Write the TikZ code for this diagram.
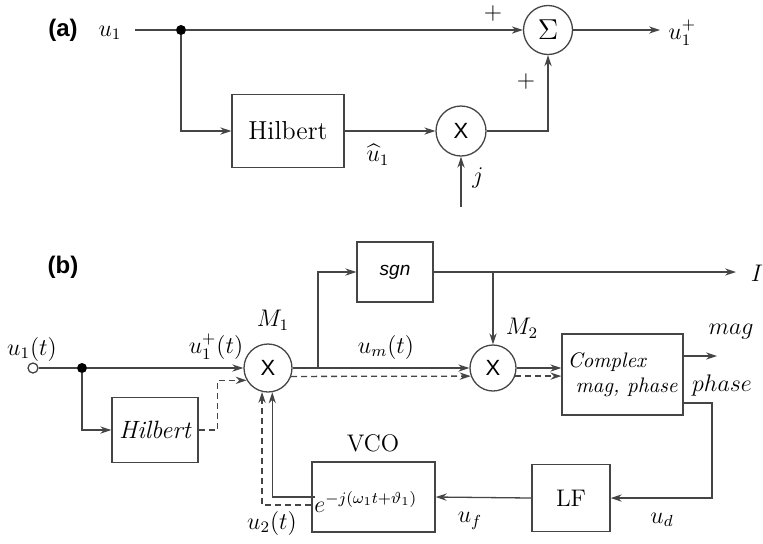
\documentclass[tikz,border=0pt]{standalone}
\usepackage{amsmath}
\usepackage{fontspec}
\newfontfamily\arialf{Liberation Sans}
\usetikzlibrary{arrows.meta,calc}
\definecolor{linec}{HTML}{454545}
\tikzset{
  lin/.style={draw=linec, line width=0.65pt},
  tip/.style={-{Stealth[length=5.5pt,width=3.6pt]}},
  arr/.style={lin, tip},
  dsh/.style={lin, tip, dash pattern=on 3pt off 2pt},
  box/.style={draw=linec, line width=0.65pt, rectangle, inner sep=0pt},
  mulc/.style={draw=linec, line width=0.65pt, circle, inner sep=0pt},
  lbl/.style={inner sep=0pt, font=\fontsize{12}{14}\selectfont},
  tag/.style={inner sep=0pt, font=\arialf\bfseries\fontsize{12}{14}\selectfont},
  dotn/.style={circle, fill=black, inner sep=0pt, minimum size=5pt},
}
\begin{document}
\begin{tikzpicture}[x=0.5pt,y=-0.5pt]
\useasboundingbox (0,0) rectangle (763,543);
% ---------------- (a) ----------------
\node[tag] (la) at (63,30) {(a)};
\node[lbl] (u1a) at (110,33) {$u_1$};
\coordinate (a0) at (135,30);
\node[dotn] (ja) at (181,30) {};
\node[mulc, minimum size=24.5pt, font=\fontsize{14}{16}\selectfont] (sig) at (548,30) {$\Sigma$};
\node[box, minimum width=56pt, minimum height=36.5pt, font=\fontsize{13}{15}\selectfont] (hila) at (288,131) {Hilbert};
\node[mulc, minimum size=25pt, font=\arialf\fontsize{11}{12}\selectfont] (mula) at (461,131) {X};
\coordinate (jin) at (461,207);
\coordinate (outa) at (660,30);
\node[lbl, anchor=west] (u1p) at (668,33) {$u_1^+$};
\node[lbl] (pl1) at (493,13) {$+$};
\node[lbl] (pl2) at (526,81) {$+$};
\node[lbl] (jl) at (478,178) {$j$};
\node[lbl] (uh) at (378,155) {$\widehat{u}_1$};
\draw[lin] (a0) -- (ja);
\draw[arr] (ja) -- (sig.west);
\draw[arr] (ja) |- (hila.west);
\draw[arr] (hila) -- (mula);
\draw[arr] (mula.east) -| (sig.south);
\draw[arr] (jin) -- (mula.south);
\draw[arr] (sig) -- (outa);
% ---------------- (b) ----------------
\node[tag] (lb) at (63,267) {(b)};
\node[lbl] (u1t) at (32,349) {$u_1(t)$};
\node[circle, draw=linec, line width=0.65pt, fill=white, inner sep=0pt, minimum size=5pt] (ob) at (33,368) {};
\node[dotn] (jb) at (82,368) {};
\node[mulc, minimum size=24pt, font=\arialf\fontsize{11}{12}\selectfont] (m1) at (268,368) {X};
\node[mulc, minimum size=23pt, font=\arialf\fontsize{11}{12}\selectfont] (m2) at (493,368) {X};
\node[box, minimum width=43pt, minimum height=32.5pt, font=\itshape\fontsize{12.5}{15}\selectfont] (hilb) at (155,430) {Hilbert};
\node[box, minimum width=38pt, minimum height=30pt, font=\arialf\itshape\fontsize{9.5}{11}\selectfont] (sg) at (395,272) {sgn};
\node[box, minimum width=60.5pt, minimum height=40.5pt, align=left, font=\itshape\fontsize{10.5}{13.5}\selectfont] (cx) at (622.5,374.5) {Complex\\[-1pt]\hspace{4pt}mag, phase};
\node[box, minimum width=39pt, minimum height=33.5pt, font=\fontsize{12}{14}\selectfont] (lf) at (571,498) {LF};
\node[box, minimum width=61.5pt, minimum height=35pt] (vco) at (373.5,497) {};
\node[lbl] (vcol) at (373,443) {VCO};
\node[lbl, anchor=base west] (ex) at (314,512) {$e^{-j(\omega_1 t+\vartheta_1)}$};
% labels
\node[lbl] (m1l) at (273,320) {$M_1$};
\node[lbl] (m2l) at (522,328) {$M_2$};
\node[lbl] (u1pt) at (216,347) {$u_1^+(t)$};
\node[lbl] (umt) at (386,347) {$u_m(t)$};
\node[lbl] (il) at (757,273) {$I$};
\node[lbl] (magl) at (731,332) {$mag$};
\node[lbl] (phl) at (722,385) {$phase$};
\node[lbl] (u2t) at (272,523) {$u_2(t)$};
\node[lbl] (ufl) at (470,521) {$u_f$};
\node[lbl] (udl) at (662,520) {$u_d$};
% coordinates
\coordinate (br) at (318,368);
\coordinate (iout) at (736,272);
\coordinate (mo) at (717,356);
\coordinate (ph) at (712,403);
\coordinate (ed) at (311,505);
% connectors (b)
\draw[lin] (ob) -- (jb);
\draw[arr] (jb) -- (m1.west);
\draw[arr] (jb) |- (hilb.west);
\draw[dsh] (hilb.east) -- ++(19,0) |- (m1.210);
\draw[arr] (m1.east) -- (m2.west);
\draw[dsh] (m1.-20) -- (m2.200);
\draw[arr] (br) |- (sg.west);
\draw[arr] (sg.east) -- (iout);
\draw[arr] (m2.north |- sg.east) -- (m2.north);
\draw[arr] (m2.east) -- (m2.east -| cx.west);
\draw[dsh] (m2.-20) -- (m2.-20 -| cx.west);
\draw[arr] (cx.east |- mo) -- (mo);
\draw[arr] (cx.east |- ph) -- (ph) |- (lf.east);
\draw[arr] (lf.west) -- (vco.east);
\draw[arr] ($(vco.west)+(4,0)$) -| (m1.-80);
\draw[dsh] (ed) -| (m1.-104);
\end{tikzpicture}
\end{document}
